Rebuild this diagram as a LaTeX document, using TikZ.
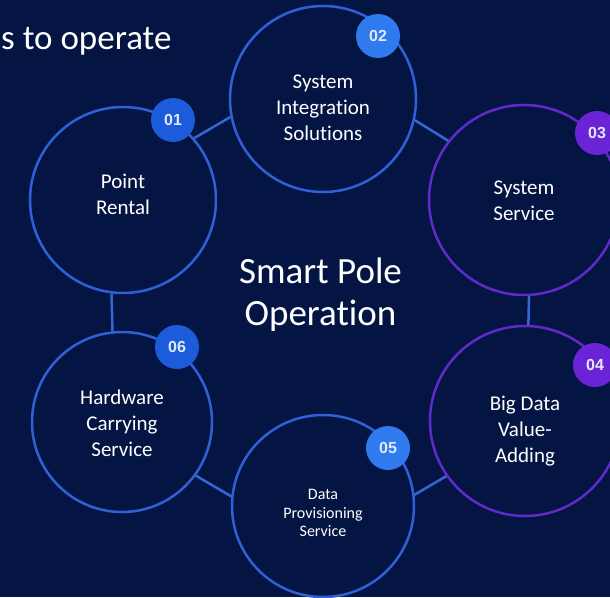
\documentclass[tikz,border=0pt]{standalone}
\usepackage{fontspec}
\setmainfont{Carlito}[Ligatures=NoCommon]
\newfontfamily\badgefont{Liberation Sans}
\definecolor{bgnavy}{RGB}{4,21,68}
\definecolor{ringblue}{RGB}{48,96,214}
\definecolor{ringpurple}{RGB}{96,42,202}
\definecolor{linkblue}{RGB}{52,102,212}
\definecolor{badgeblue}{RGB}{28,92,218}
\definecolor{badgelight}{RGB}{46,122,238}
\definecolor{badgepurple}{RGB}{106,36,214}
\definecolor{badgetext}{RGB}{224,234,255}
\begin{document}
\begin{tikzpicture}[x=1pt, y=-1pt,
    stage/.style={circle, draw=ringblue, line width=2.5pt, fill=bgnavy, minimum size=186pt, inner sep=0pt},
    purplestage/.style={stage, draw=ringpurple},
    stagetext/.style={inner sep=0pt, text=white, align=center, font=\fontsize{21}{26}\selectfont},
    badge/.style={circle, fill=#1, minimum size=44pt, inner sep=0pt, text=badgetext, font=\badgefont\bfseries\fontsize{16}{16}\selectfont},
    link/.style={draw=linkblue, line width=2.5pt},
  ]
    \fill[bgnavy] (0,0) rectangle (610,597);
    \useasboundingbox (0,0) rectangle (610,597);

    % Heading (cut off on the left)
    \node[anchor=base west, inner sep=0pt, text=white, font=\fontsize{35}{40}\selectfont] (heading) at (1,49) {s to operate};

    % Centre text
    \node[inner sep=0pt, text=white, align=center, font=\fontsize{37}{42}\selectfont] (centre) at (320.5,295) {Smart Pole\\Operation};

    % Stages
    \node[stage] (rental) at (123,200) {};
    \node[stage] (integration) at (323,99) {};
    \node[purplestage, minimum size=190pt] (service) at (524,200) {};
    \node[purplestage, minimum size=190pt] (bigdata) at (525,421) {};
    \node[stage, minimum size=182pt] (provisioning) at (323,506) {};
    \node[stage, minimum size=180pt] (hardware) at (122,422) {};

    % Stage texts
    \node[stagetext] (rentaltext) at ([yshift=6pt]rental) {Point\\Rental};
    \node[stagetext] (integrationtext) at ([yshift=-9pt]integration) {System\\Integration\\Solutions};
    \node[stagetext] (servicetext) at ([yshift=-1pt]service) {System\\Service};
    \node[stagetext] (bigdatatext) at ([yshift=-10pt]bigdata) {Big Data\\Value-\\Adding};
    \node[stagetext, font=\fontsize{16}{18.5}\selectfont] (provisioningtext) at ([yshift=-7pt]provisioning) {Data\\Provisioning\\Service};
    \node[stagetext] (hardwaretext) at ([yshift=-1pt]hardware) {Hardware\\Carrying\\Service};

    % Links between stages
    \draw[link] (rental.41) -- (integration.191);
    \draw[link] (integration.-13) -- (service.142);
    \draw[link] (service.-87) -- (bigdata.88);
    \draw[link] (bigdata.215) -- (provisioning.7);
    \draw[link] (provisioning.174) -- (hardware.-36);
    \draw[link] (hardware.96) -- (rental.-97);

    % Number badges
    \node[badge=badgeblue] (b1) at (173,120) {01};
    \node[badge=badgelight] (b2) at (378,36) {02};
    \node[badge=badgepurple] (b3) at (597,133) {03};
    \node[badge=badgepurple] (b4) at (595,365) {04};
    \node[badge=badgelight] (b5) at (388,448) {05};
    \node[badge=badgeblue] (b6) at (177,347) {06};
  \end{tikzpicture}
\end{document}
